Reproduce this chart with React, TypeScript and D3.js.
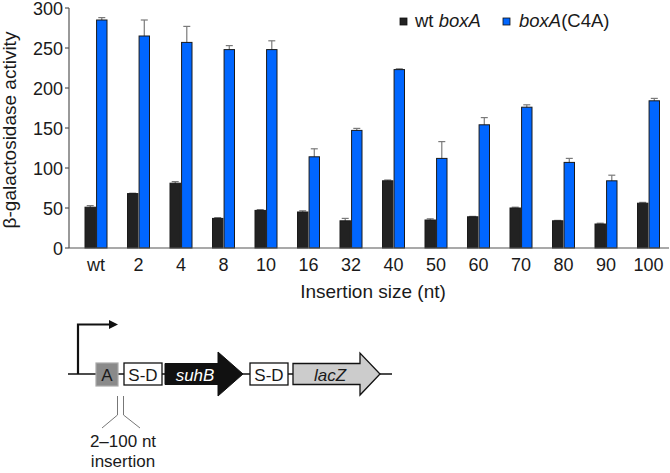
import React from "react";
import * as d3 from "d3";

const categories = ["wt", "2", "4", "8", "10", "16", "32", "40", "50", "60", "70", "80", "90", "100"];
const wtValues = [51, 68, 81, 37, 47, 45, 34, 84, 35, 39, 50, 34, 30, 56];
const wtErrors = [2, 0.5, 2, 1, 1, 1.5, 3, 1, 1.5, 0.5, 1, 0.5, 1, 1];
const c4aValues = [285, 265, 257, 248, 248, 114, 147, 223, 112, 154, 176, 107, 84, 184];
const c4aErrors = [3, 20, 20, 5, 11, 10, 2.5, 1, 21, 9, 3, 5, 7, 3];
const yTicks = [0, 50, 100, 150, 200, 250, 300];

const series = [
  { key: "wt", values: wtValues, errors: wtErrors, color: "#222222" },
  { key: "c4a", values: c4aValues, errors: c4aErrors, color: "#0066ff" },
];

const W = 670;
const H = 473;
const FONT = "'Liberation Sans', Arial, Helvetica, sans-serif";
const AXIS_X = 69;
const AXIS_END = 669;

export default function App() {
  const y = d3.scaleLinear().domain([0, 300]).range([248, 8]);
  const x = d3.scalePoint<string>().domain(categories).range([96, 648.5]);
  const inner = d3
    .scaleBand<string>()
    .domain(series.map((s) => s.key))
    .range([-11, 11])
    .paddingInner(0.1);

  const bars = series.map((s) =>
    categories.map((c, i) => {
      const cx = x(c)!;
      const bx = cx + inner(s.key)!;
      const bw = inner.bandwidth();
      const v = s.values[i];
      const e = s.errors[i];
      const mid = bx + bw / 2;
      return (
        <g key={s.key + c}>
          <line x1={mid} x2={mid} y1={y(v + e)} y2={y(v - e)} stroke="#7a7a7a" strokeWidth={1.2} />
          <line x1={mid - 3.5} x2={mid + 3.5} y1={y(v + e)} y2={y(v + e)} stroke="#7a7a7a" strokeWidth={1.2} />
          <line x1={mid - 3.5} x2={mid + 3.5} y1={y(v - e)} y2={y(v - e)} stroke="#7a7a7a" strokeWidth={1.2} />
          <rect
            x={bx}
            y={y(v)}
            width={bw}
            height={y(0) - y(v)}
            fill={s.color}
            stroke="#1a1a1a"
            strokeWidth={1}
          />
        </g>
      );
    })
  );

  return (
    <svg
      width={W}
      height={H}
      style={{ position: "absolute", left: 0, top: 0, background: "#fff" }}
      fontFamily={FONT}
    >
      {bars}
      {/* axes */}
      <line x1={AXIS_X} x2={AXIS_X} y1={y(300)} y2={y(0)} stroke="#555" strokeWidth={1.2} />
      <line x1={AXIS_X} x2={AXIS_END} y1={y(0)} y2={y(0)} stroke="#555" strokeWidth={1.2} />
      {yTicks.map((t) => (
        <g key={t}>
          <line x1={AXIS_X - 4} x2={AXIS_X} y1={y(t)} y2={y(t)} stroke="#555" strokeWidth={1.2} />
          <text x={AXIS_X - 6} y={y(t)} dy="0.4em" textAnchor="end" fontSize={18} fill="#1a1a1a">
            {t}
          </text>
        </g>
      ))}
      {categories.map((c) => (
        <text key={c} x={x(c)} y={271} textAnchor="middle" fontSize={18} fill="#1a1a1a">
          {c}
        </text>
      ))}
      <text x={373} y={298} textAnchor="middle" fontSize={19} fill="#1a1a1a">
        Insertion size (nt)
      </text>
      <text
        transform={`translate(16,130) rotate(-90)`}
        textAnchor="middle"
        fontSize={19}
        fill="#1a1a1a"
      >
        β-galactosidase activity
      </text>

      {/* legend */}
      <g fontSize={18.5} fill="#1a1a1a">
        <rect x={400} y={18} width={7} height={7} fill="#222" stroke="#111" strokeWidth={0.8} />
        <text x={415} y={27}>
          wt <tspan fontStyle="italic">boxA</tspan>
        </text>
        <rect x={503} y={18} width={7} height={7} fill="#0066ff" stroke="#111" strokeWidth={0.8} />
        <text x={519} y={27}>
          <tspan fontStyle="italic">boxA</tspan>(C4A)
        </text>
      </g>

      {/* gene diagram */}
      <g>
        <line x1={68} x2={392} y1={374} y2={374} stroke="#111" strokeWidth={1.3} />
        <path d="M78,374 V324.5 H110" fill="none" stroke="#111" strokeWidth={2.2} />
        <path d="M109,320 L118,324.5 L109,329 Z" fill="#111" />
        <rect x={96} y={363} width={22} height={23} fill="#8a8a8a" stroke="#aaa" strokeWidth={1.2} />
        <text x={107} y={380.5} textAnchor="middle" fontSize={17} fill="#1a1a1a">
          A
        </text>
        <rect x={124} y={363} width={38} height={22} fill="#fff" stroke="#111" strokeWidth={1.3} />
        <text x={143} y={380.5} textAnchor="middle" fontSize={17} fill="#1a1a1a">
          S-D
        </text>
        <path d="M165,363.5 H218 V352 L243,374 L218,396 V384.5 H165 Z" fill="#111" stroke="#111" strokeWidth={1} />
        <text x={195} y={380.5} textAnchor="middle" fontSize={17} fontStyle="italic" fill="#fff">
          suhB
        </text>
        <rect x={250} y={363} width={38} height={22} fill="#fff" stroke="#111" strokeWidth={1.3} />
        <text x={269} y={380.5} textAnchor="middle" fontSize={17} fill="#1a1a1a">
          S-D
        </text>
        <path d="M293,363.5 H360 V353 L380,374 L360,395 V384.5 H293 Z" fill="#cccccc" stroke="#111" strokeWidth={1.3} />
        <text x={330} y={380.5} textAnchor="middle" fontSize={17} fontStyle="italic" fill="#1a1a1a">
          lacZ
        </text>
        <path d="M117.5,396 V415 L102,428" fill="none" stroke="#777" strokeWidth={1} />
        <path d="M123.5,396 V415 L140,428" fill="none" stroke="#777" strokeWidth={1} />
        <text x={123} y={447} textAnchor="middle" fontSize={17} fill="#1a1a1a">
          2–100 nt
        </text>
        <text x={123} y={467} textAnchor="middle" fontSize={17} fill="#1a1a1a">
          insertion
        </text>
      </g>
    </svg>
  );
}
